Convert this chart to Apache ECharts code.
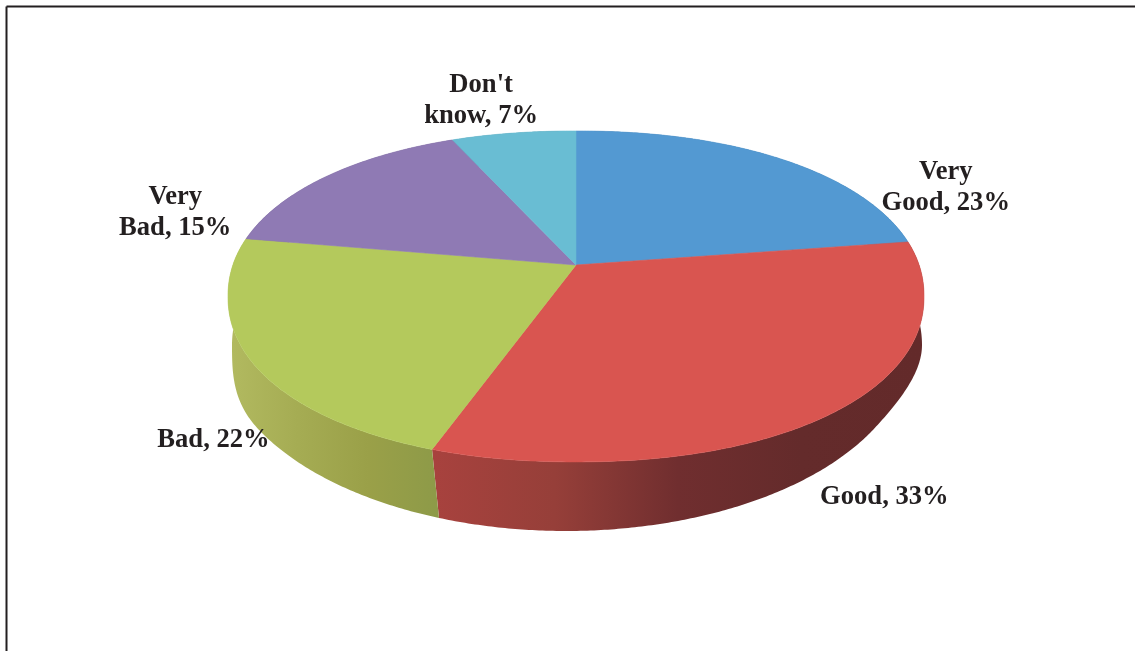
<!DOCTYPE html>
<html>
<head>
<meta charset="utf-8">
<style>html,body{margin:0;padding:0;background:#fff}#c{width:1135px;height:651px}</style>
<script src="https://cdn.jsdelivr.net/npm/echarts@6/dist/echarts.min.js"></script>
</head>
<body>
<div id="c"></div>
<script>
const categories = ['Very Good', 'Good', 'Bad', 'Very Bad', "Don't know"];
const values = [23, 33, 22, 15, 7];
const labelTexts = ['Very\nGood, 23%', 'Good, 33%', 'Bad, 22%', 'Very\nBad, 15%', "Don't\nknow, 7%"];
const topColors = ['#5399d2', '#d95550', '#b4c95c', '#8f7ab4', '#69bdd3'];
const wallColors = [
  ['#3a6c96', '#3a6c96'],
  ['#a8423e', '#963f39', '#702e2f', '#642b2b', '#632a2a'],
  ['#b2ba60', '#a5ac53', '#9aa048', '#8d9a48'],
  ['#675783', '#675783'],
  ['#4b8898', '#4b8898']
];

// Perspective view of the tilted disc
const view = { cx: 576, cy: 265, a: 341.6, b: 159.5, k: 0.19,
               edgeCx: 576, edgeCy: 296.5, edgeRx: 349, edgeRy: 165.5, squareness: 0.943,
               yaw: 0.055, backYaw: 0.03, backAt: 335 * Math.PI / 180 };
const wallEdge = { cx: 566, topCx: 577, cy: 345, rx: 345, ry: 186, blend: 0.45 };
const labelOffsets = [[172, 27], [62, 84], [-33, 91], [-159, 35], [-32, -33]];
const total = values.reduce((s, v) => s + v, 0);

function project(theta) {
  const X = Math.sin(theta), Y = Math.cos(theta), d = 1 + view.k * Y;
  return [view.cx + view.a * X / d, view.cy - view.b * Y / d];
}
function signedPow(v, p) { return Math.sign(v) * Math.pow(Math.abs(v), p); }
function rim(theta) {
  const t = theta - view.yaw * Math.max(0, -Math.sin(theta + Math.PI / 6))
    + view.backYaw * (Math.abs(theta - view.backAt) < Math.PI / 8 ? Math.cos(4 * (theta - view.backAt)) : 0);
  const p = project(t);
  const u = Math.min(1, Math.max(-1, (p[0] - view.edgeCx) / view.edgeRx));
  const v = Math.min(1, Math.max(-1, (p[1] - view.edgeCy) / view.edgeRy));
  return [view.edgeCx + view.edgeRx * signedPow(u, view.squareness),
          view.edgeCy + view.edgeRy * signedPow(v, view.squareness)];
}
function lowerRim(theta) {
  const v = -Math.cos(theta);
  const s = Math.min(1, Math.max(0, v / wallEdge.blend));
  const w = s * s * (3 - 2 * s);
  const c = wallEdge.topCx + (wallEdge.cx - wallEdge.topCx) * w;
  return [c + wallEdge.rx * Math.sin(theta), wallEdge.cy + wallEdge.ry * v];
}
function angles(i) {
  let before = 0;
  for (let j = 0; j < i; j++) before += values[j];
  return [before / total * 2 * Math.PI, (before + values[i]) / total * 2 * Math.PI];
}
function arc(fn, a0, a1) {
  const n = Math.max(2, Math.ceil(Math.abs(a1 - a0) / 0.01)), out = [];
  for (let i = 0; i <= n; i++) out.push(fn(a0 + (a1 - a0) * i / n));
  return out;
}

function renderWall(params) {
  const i = params.dataIndex, [a0, a1] = angles(i);
  const stops = wallColors[i];
  const fill = new echarts.graphic.LinearGradient(0, 0, 1, 0,
    stops.map((c, j) => ({ offset: j / (stops.length - 1), color: c })));
  return { type: 'polygon',
    shape: { points: arc(rim, a0, a1).concat(arc(lowerRim, a1, a0)) },
    style: { fill: fill } };
}
function renderTop(params) {
  const i = params.dataIndex, [a0, a1] = angles(i);
  const mid = project((a0 + a1) / 2);
  return { type: 'group', children: [
    { type: 'polygon',
      shape: { points: [[view.cx, view.cy]].concat(arc(rim, a0, a1)) },
      style: { fill: topColors[i], stroke: topColors[i], lineWidth: 0.6 } },
    { type: 'text', z2: 10,
      style: { text: labelTexts[i],
        x: mid[0] + labelOffsets[i][0], y: mid[1] + labelOffsets[i][1],
        align: 'center', verticalAlign: 'middle',
        fontFamily: 'Liberation Serif', fontWeight: 'bold', fontSize: 26.6, lineHeight: 31,
        fill: '#231f20' } }
  ]};
}

const chart = echarts.init(document.getElementById('c'), null, { renderer: 'canvas' });
const seriesData = categories.map((name, i) => ({ name: name, value: values[i] }));
chart.setOption({
  animation: false,
  backgroundColor: '#ffffff',
  graphic: [
    { type: 'line', shape: { x1: 6.5, y1: 6.5, x2: 1135, y2: 6.5 }, style: { stroke: '#231f20', lineWidth: 2 } },
    { type: 'line', shape: { x1: 6.5, y1: 6.5, x2: 6.5, y2: 651 }, style: { stroke: '#231f20', lineWidth: 2 } }
  ],
  series: [
    { type: 'custom', coordinateSystem: 'none', z: 1, renderItem: renderWall, data: seriesData, silent: true },
    { type: 'custom', coordinateSystem: 'none', z: 2, renderItem: renderTop, data: seriesData, silent: true }
  ]
});
</script>
</body>
</html>
